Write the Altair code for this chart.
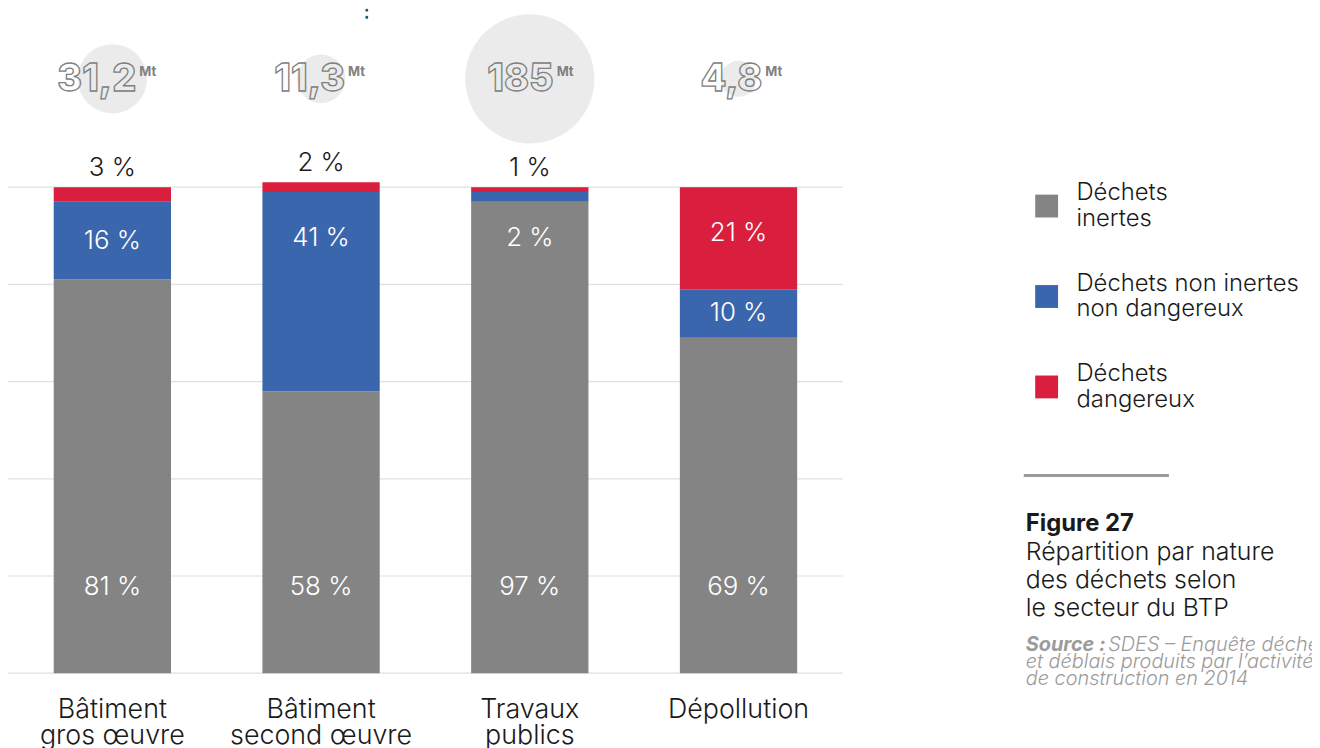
import altair as alt
import pandas as pd

# ---------------- data ----------------
CATEGORIES = ["Bâtiment\ngros œuvre", "Bâtiment\nsecond œuvre", "Travaux\npublics", "Dépollution"]
WASTE_TYPES = ["Déchets\ninertes", "Déchets non inertes\nnon dangereux", "Déchets\ndangereux"]
INERTES = [81, 58, 97, 69]
NON_INERTES = [16, 41, 2, 10]
DANGEREUX = [3, 2, 1, 21]
TONNAGE = [31.2, 11.3, 185, 4.8]
TONNAGE_TEXT = ["31,2", "11,3", "185", "4,8"]
GRID_VALUES = [0, 20, 40, 60, 80, 100]
COLORS = ["#848484", "#3a66ad", "#da1e3d"]

CAPTION_TITLE = "Figure 27"
CAPTION_LINES = ["Répartition par nature", "des déchets selon", "le secteur du BTP"]
SOURCE_HEAD = "Source :"
SOURCE_LINE1 = "SDES – Enquête déchets"
SOURCE_LINES = ["et déblais produits par l’activité", "de construction en 2014"]

FONT = "Inter"
TXT = "#1a1a1a"

# ---------------- tables built from the arrays ----------------
series = [INERTES, NON_INERTES, DANGEREUX]
rows, labels = [], []
for i, cat in enumerate(CATEGORIES):
    start = 0
    for j, wt in enumerate(WASTE_TYPES):
        v = series[j][i]
        end = start + v
        rows.append(dict(cat=cat, type=wt, start=start, end=end))
        text = f"{v} %"
        if j == 0:
            labels.append(dict(cat=cat, text=text, ly=17.8, where="in"))
        elif v < 5 and j == len(WASTE_TYPES) - 1:
            labels.append(dict(cat=cat, text=text, ly=end, where="above"))
        elif v < 5:
            labels.append(dict(cat=cat, text=text, ly=end - 9.5, where="in"))
        else:
            labels.append(dict(cat=cat, text=text, ly=max((start + end) / 2, end - 9.5), where="in"))
        start = end

bars_df = pd.DataFrame(rows)
labels_df = pd.DataFrame(labels)
ton_df = pd.DataFrame({"cat": CATEGORIES, "t": TONNAGE, "ttext": TONNAGE_TEXT})
grid_df = pd.DataFrame({"v": GRID_VALUES})
one = pd.DataFrame({"k": [0]})

Y_TOP = 100 * 667 / 489

x_enc = alt.X(
    "cat:N",
    sort=CATEGORIES,
    scale=alt.Scale(paddingInner=0.438, paddingOuter=0.219),
    axis=alt.Axis(
        title=None, labelAngle=0, domain=False, ticks=False, grid=False,
        labelExpr="split(datum.label, '\\n')",
        labelFont=FONT, labelFontSize=27, labelFontWeight=300, labelLimit=400,
        labelLineHeight=26, labelPadding=24, labelColor=TXT,
    ),
)
x_plain = alt.X("cat:N", sort=CATEGORIES)
y_scale = alt.Scale(domain=[0, Y_TOP], nice=False, zero=True)

grid = alt.Chart(grid_df).mark_rule(color="#e0e0e0", strokeWidth=1.2).encode(
    y=alt.Y("v:Q", scale=y_scale, axis=None),
    x=alt.value(0), x2=alt.value(840),
)

bars = alt.Chart(bars_df).mark_bar().encode(
    x=x_enc,
    y=alt.Y("end:Q", scale=y_scale, axis=None),
    y2="start:Q",
    color=alt.Color(
        "type:N",
        scale=alt.Scale(domain=WASTE_TYPES, range=COLORS),
        legend=alt.Legend(
            title=None, orient="none", legendX=1033, legendY=185, padding=0,
            symbolType="square", symbolSize=529, symbolStrokeWidth=0,
            labelFont=FONT, labelFontSize=24, labelFontWeight=300, labelColor=TXT,
            labelBaseline="line-bottom",
            labelOffset=18, rowPadding=41, labelLimit=400,
            labelExpr="split(datum.label, '\\n')",
        ),
    ),
)

in_labels = alt.Chart(labels_df).transform_filter(alt.datum.where == "in").mark_text(
    font=FONT, fontSize=26, fontWeight=300, color="white", baseline="middle"
).encode(
    x=x_plain,
    y=alt.Y("ly:Q", scale=y_scale, axis=None),
    text="text:N",
)

top_labels = alt.Chart(labels_df).transform_filter(alt.datum.where == "above").mark_text(
    font=FONT, fontSize=26, fontWeight=300, color=TXT, baseline="bottom", dy=-6
).encode(
    x=x_plain,
    y=alt.Y("ly:Q", scale=y_scale, axis=None),
    text="text:N",
)

circles = alt.Chart(ton_df).mark_circle(color="#ebebeb", opacity=1).encode(
    x=x_plain,
    y=alt.value(69),
    size=alt.Size("t:Q", scale=alt.Scale(type="pow", exponent=0.7, domain=[0, 185], range=[0, 16900]),
                  legend=None),
)

numbers = alt.Chart(ton_df).mark_text(
    align="right", baseline="alphabetic", dx=24, font=FONT, fontSize=38, fontWeight=800,
    fill="transparent", stroke="#808080", strokeWidth=1.3,
).encode(
    x=x_plain,
    y=alt.value(81),
    text="ttext:N",
)

units = alt.Chart(ton_df).mark_text(
    align="left", baseline="alphabetic", dx=27, font=FONT, fontSize=13, fontWeight=700,
    color="#808080",
).encode(
    x=x_plain,
    y=alt.value(66),
    text=alt.value("Mt"),
)

dots = alt.Chart(one).mark_rule(
    color="#1f5a6e", strokeDash=[0.1, 7], strokeCap="round", strokeWidth=3
).encode(x=alt.value(361), y=alt.value(0), y2=alt.value(8))

divider = alt.Chart(one).mark_rule(color="#9a9a9a", strokeWidth=3).encode(
    x=alt.value(1022), x2=alt.value(1168), y=alt.value(468)
)

fig_title = alt.Chart(one).mark_text(
    align="left", baseline="alphabetic", font=FONT, fontSize=24, fontWeight=700, color=TXT,
    text=CAPTION_TITLE,
).encode(x=alt.value(1024), y=alt.value(524))

fig_lines = alt.Chart(one).mark_text(
    align="left", baseline="alphabetic", font=FONT, fontSize=25, fontWeight=300, color=TXT,
    lineHeight=28, text=CAPTION_LINES,
).encode(x=alt.value(1024), y=alt.value(553))

src_head = alt.Chart(one).mark_text(
    align="left", baseline="alphabetic", font=FONT, fontSize=20, fontWeight=700,
    fontStyle="italic", color="#9b9b9b", text=SOURCE_HEAD,
).encode(x=alt.value(1024), y=alt.value(645))

src_l1 = alt.Chart(one).mark_text(
    align="left", baseline="alphabetic", font=FONT, fontSize=20, fontWeight=300,
    fontStyle="italic", color="#9b9b9b", text=SOURCE_LINE1,
).encode(x=alt.value(1107), y=alt.value(645))

src_rest = alt.Chart(one).mark_text(
    align="left", baseline="alphabetic", font=FONT, fontSize=20, fontWeight=300,
    fontStyle="italic", color="#9b9b9b", lineHeight=17, text=SOURCE_LINES,
).encode(x=alt.value(1024), y=alt.value(662))

chart = alt.layer(
    grid, bars, in_labels, top_labels, circles, numbers, units, dots, divider,
    fig_title, fig_lines, src_head, src_l1, src_rest,
).properties(
    width=840, height=667,
    autosize=alt.AutoSizeParams(type="none"),
    padding={"left": 0, "top": 0, "right": 472, "bottom": 73},
    background="white",
).configure_view(stroke=None)

chart.save("out.html", embed_options={"renderer": "svg", "actions": False})
